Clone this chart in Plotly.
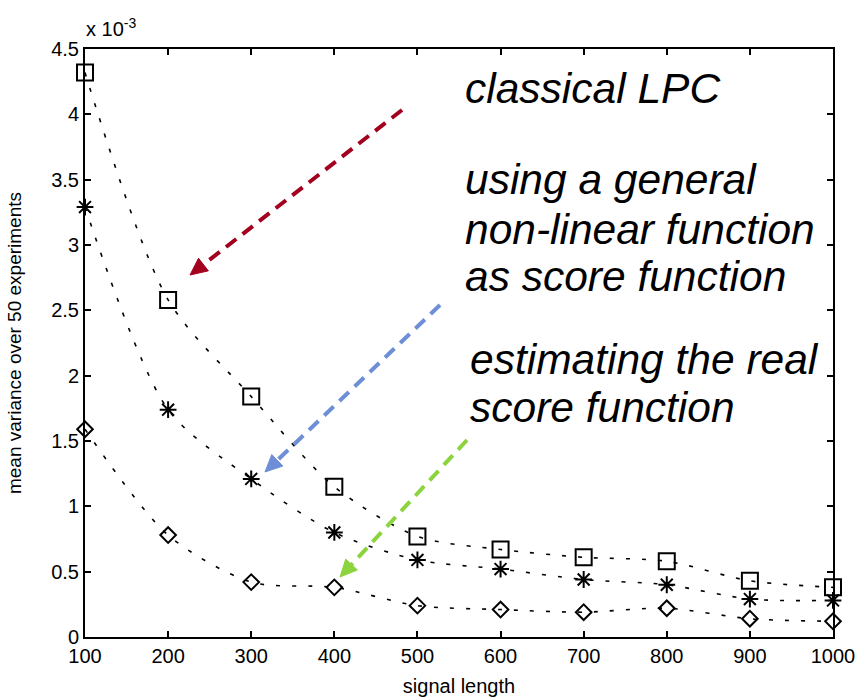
import plotly.graph_objects as go

# ---- data (values in units of 1e-3) ----
signal_length = [100, 200, 300, 400, 500, 600, 700, 800, 900, 1000]
classical_lpc = [4.32, 2.58, 1.84, 1.15, 0.77, 0.67, 0.61, 0.58, 0.43, 0.38]
general_nonlin = [3.29, 1.74, 1.21, 0.80, 0.59, 0.52, 0.44, 0.40, 0.29, 0.28]
real_score = [1.59, 0.78, 0.42, 0.38, 0.24, 0.21, 0.19, 0.22, 0.14, 0.12]
y_ticks = [0, 0.5, 1, 1.5, 2, 2.5, 3, 3.5, 4, 4.5]
x_ticks = [100, 200, 300, 400, 500, 600, 700, 800, 900, 1000]

W, H = 858, 698
L, R, T, B = 85, 833, 49, 637


def px(x):
    return (x - L) / (R - L)


def py(y):
    return (B - y) / (B - T)


fig = go.Figure()
series = [
    (classical_lpc, "square-open", 16),
    (general_nonlin, "asterisk-open", 14),
    (real_score, "diamond-open", 12),
]
for vals, sym, size in series:
    fig.add_trace(go.Scatter(
        x=signal_length, y=vals, mode="lines+markers",
        line=dict(color="black", width=1.6, dash="4px,12px", shape="spline", smoothing=0.8),
        marker=dict(symbol=sym, size=size, color="black", line=dict(color="black", width=2)),
        cliponaxis=False, showlegend=False,
    ))

font_tick = dict(family="Liberation Sans, Arial, sans-serif", size=20, color="black")
axis_common = dict(
    showline=True, linecolor="black", linewidth=2, mirror="ticks",
    ticks="inside", ticklen=6, tickwidth=1.5, tickcolor="black",
    showgrid=False, zeroline=False, tickfont=font_tick, automargin=False,
)
fig.update_xaxes(range=[100, 1000], tickvals=x_ticks,
                 title=dict(text="signal length", font=dict(family="Liberation Sans, Arial", size=20, color="black"), standoff=13),
                 **axis_common)
fig.update_yaxes(range=[0, 4.5], tickvals=y_ticks,
                 title=dict(text="mean variance over 50 experiments", font=dict(family="Liberation Sans, Arial", size=19, color="black"), standoff=25),
                 **axis_common)

annotations = []
# exponent label
annotations.append(dict(xref="paper", yref="paper", x=px(84), y=py(27), xanchor="left", yanchor="middle",
                        text="x 10<sup>-3</sup>", showarrow=False,
                        font=dict(family="Liberation Sans, Arial", size=20, color="black")))

text_font = dict(family="Liberation Sans, Arial, sans-serif", size=42.5, color="black")
lines = [
    ("<i>classical LPC</i>", 463, 102),
    ("<i>using a general</i>", 463, 194),
    ("<i>non-linear function</i>", 463, 243),
    ("<i>as score function</i>", 463, 290),
    ("<i>estimating the real</i>", 468, 373),
    ("<i>score function</i>", 468, 421),
]
for txt, x0, base in lines:
    annotations.append(dict(xref="paper", yref="paper", x=px(x0), y=py(base - 14),
                            xanchor="left", yanchor="middle", text=txt, showarrow=False,
                            font=text_font))

shapes = []
arrows = [
    ((402, 110), (190, 275), "#A3001F"),
    ((440, 305), (265, 472), "#6E8FD8"),
    ((467, 440), (340, 577), "#8CD43E"),
]
for (tx, ty), (hx, hy), col in arrows:
    dx, dy = hx - tx, hy - ty
    n = (dx * dx + dy * dy) ** 0.5
    ux, uy = dx / n, dy / n
    hl, hw = 17, 8
    bx, by = hx - hl * ux, hy - hl * uy
    nx, ny = -uy, ux
    shapes.append(dict(type="line", xref="paper", yref="paper",
                       x0=px(tx), y0=py(ty), x1=px(bx), y1=py(by),
                       line=dict(color=col, width=4, dash="13px,8px")))
    p1 = (bx + hw * nx, by + hw * ny)
    p2 = (bx - hw * nx, by - hw * ny)
    path = "M {} {} L {} {} L {} {} Z".format(px(hx), py(hy), px(p1[0]), py(p1[1]), px(p2[0]), py(p2[1]))
    shapes.append(dict(type="path", xref="paper", yref="paper", path=path,
                       fillcolor=col, line=dict(color=col, width=1)))

fig.update_layout(
    width=W, height=H,
    margin=dict(l=L, r=W - R, t=T, b=H - B),
    plot_bgcolor="white", paper_bgcolor="white",
    annotations=annotations, shapes=shapes,
)
fig.write_html("out.html")
